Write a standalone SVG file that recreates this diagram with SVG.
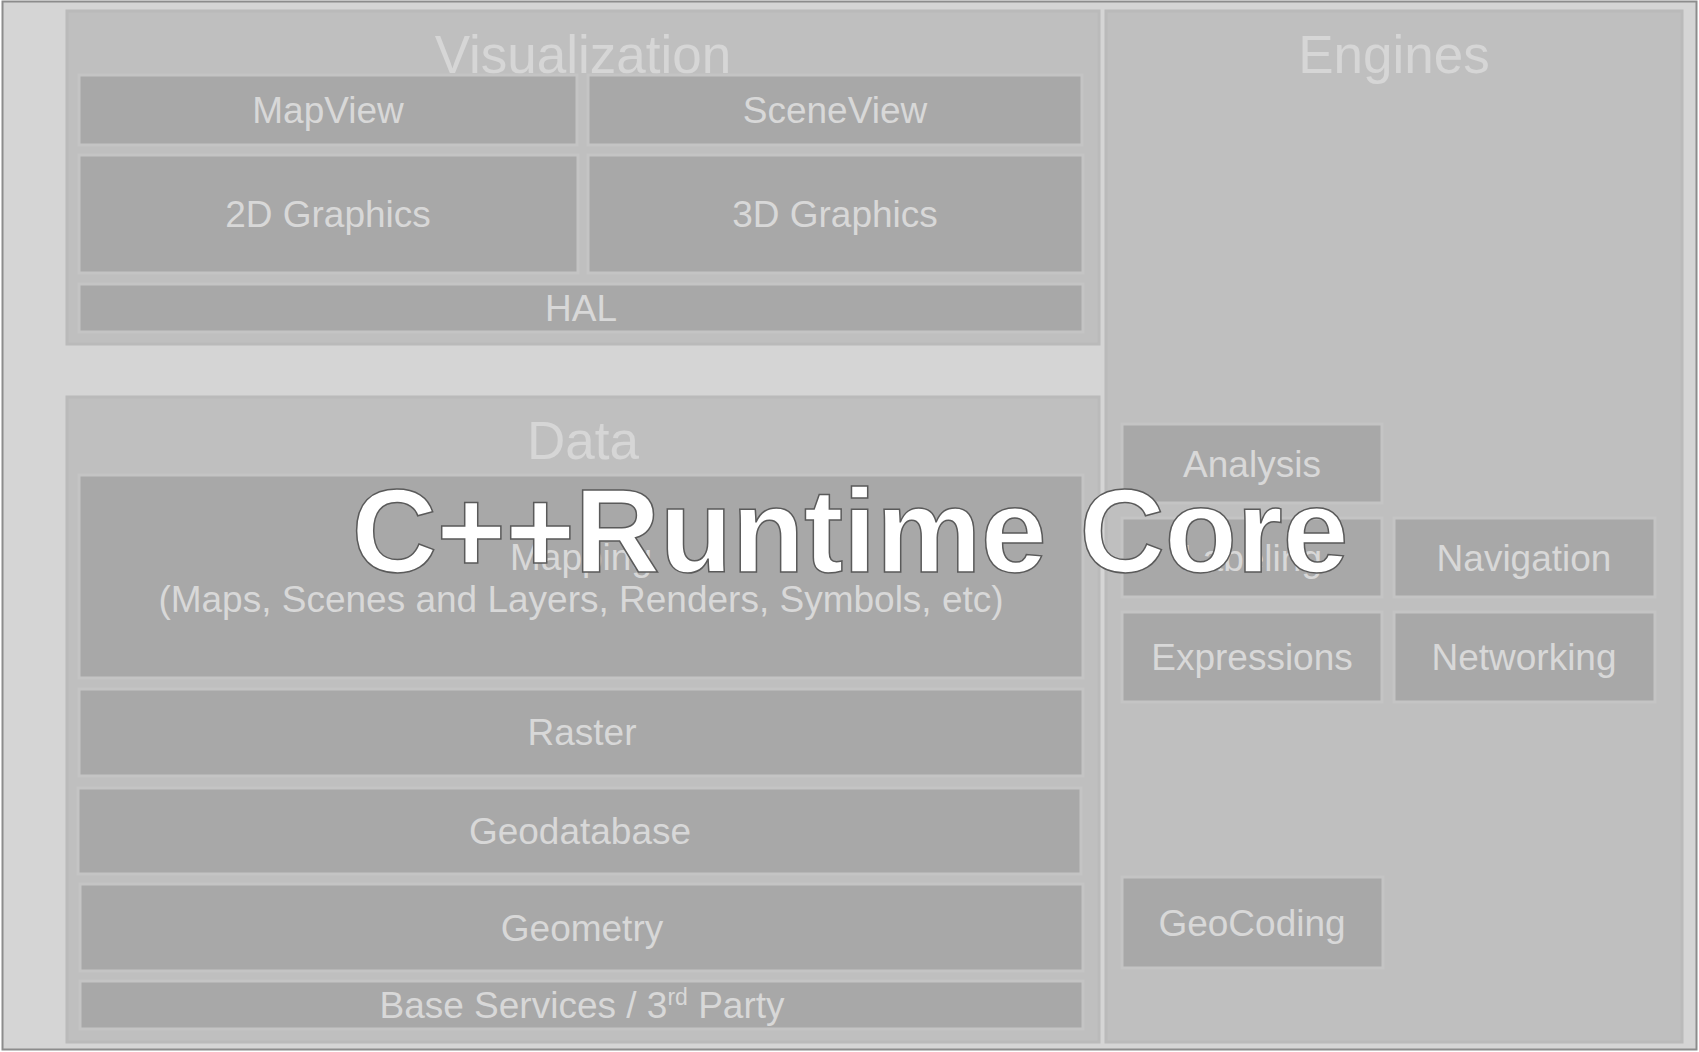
<svg xmlns="http://www.w3.org/2000/svg" width="1699" height="1052" viewBox="0 0 1699 1052">
<style>
.panel{fill:#bfbfbf;stroke:#bababa;stroke-width:3}
.box{fill:#a8a8a8;stroke:#c4c4c4;stroke-width:3}
.title{font-family:"Liberation Sans",Arial,sans-serif;font-size:53px;fill:#d6d6d6;text-anchor:middle}
.lbl{font-family:"Liberation Sans",Arial,sans-serif;font-size:37px;fill:#d8d8d8;text-anchor:middle}
.big{font-family:"Liberation Sans",Arial,sans-serif;font-size:118px;font-weight:bold;fill:#ffffff;stroke:#5a5a5a;stroke-width:1.5;text-anchor:middle}
</style>
<rect id="frame" x="2.5" y="1.5" width="1694" height="1048" fill="#d5d5d5" stroke="#8c8c8c" stroke-width="2"/>

<g id="visualization">
  <rect class="panel" x="67" y="11" width="1032" height="333"/>
  <text class="title" x="583" y="73">Visualization</text>
</g>
<g id="mapview"><rect class="box" x="79" y="75" width="498" height="70"/><text class="lbl" x="328" y="123">MapView</text></g>
<g id="sceneview"><rect class="box" x="588" y="75" width="494" height="70"/><text class="lbl" x="835" y="123">SceneView</text></g>
<g id="graphics2d"><rect class="box" x="79" y="155" width="499" height="118"/><text class="lbl" x="328" y="227">2D Graphics</text></g>
<g id="graphics3d"><rect class="box" x="588" y="155" width="495" height="118"/><text class="lbl" x="835" y="227">3D Graphics</text></g>
<g id="hal"><rect class="box" x="79" y="284" width="1004" height="48"/><text class="lbl" x="581" y="321">HAL</text></g>

<g id="data">
  <rect class="panel" x="67" y="397" width="1032" height="645"/>
  <text class="title" x="583" y="459">Data</text>
</g>
<g id="mapping"><rect class="box" x="79" y="475" width="1004" height="203"/>
  <text class="lbl" x="581" y="570">Mapping</text>
  <text class="lbl" x="581" y="612">(Maps, Scenes and Layers, Renders, Symbols, etc)</text></g>
<g id="raster"><rect class="box" x="79" y="689" width="1004" height="87"/><text class="lbl" x="582" y="745">Raster</text></g>
<g id="geodatabase"><rect class="box" x="78" y="788" width="1003" height="86"/><text class="lbl" x="580" y="844">Geodatabase</text></g>
<g id="geometry"><rect class="box" x="80" y="884" width="1003" height="87"/><text class="lbl" x="582" y="941">Geometry</text></g>
<g id="baseservices"><rect class="box" x="80" y="981" width="1003" height="48"/>
  <text class="lbl" x="582" y="1018">Base Services / 3<tspan font-size="23" dy="-13">rd</tspan><tspan dy="13"> Party</tspan></text></g>

<g id="engines">
  <rect class="panel" x="1106" y="11" width="576" height="1031"/>
  <text class="title" x="1394" y="73">Engines</text>
</g>
<g id="analysis"><rect class="box" x="1122" y="424" width="260" height="79"/><text class="lbl" x="1252" y="477">Analysis</text></g>
<g id="labeling"><rect class="box" x="1122" y="518" width="260" height="79"/><text class="lbl" x="1252" y="571">Labeling</text></g>
<g id="navigation"><rect class="box" x="1394" y="518" width="261" height="79"/><text class="lbl" x="1524" y="571">Navigation</text></g>
<g id="expressions"><rect class="box" x="1122" y="612" width="260" height="90"/><text class="lbl" x="1252" y="670">Expressions</text></g>
<g id="networking"><rect class="box" x="1394" y="612" width="261" height="90"/><text class="lbl" x="1524" y="670">Networking</text></g>
<g id="geocoding"><rect class="box" x="1122" y="877" width="261" height="91"/><text class="lbl" x="1252" y="936">GeoCoding</text></g>

<g id="connectors"/>

<g id="overlay-title"><text class="big" x="850" y="572">C++Runtime Core</text></g>
</svg>
